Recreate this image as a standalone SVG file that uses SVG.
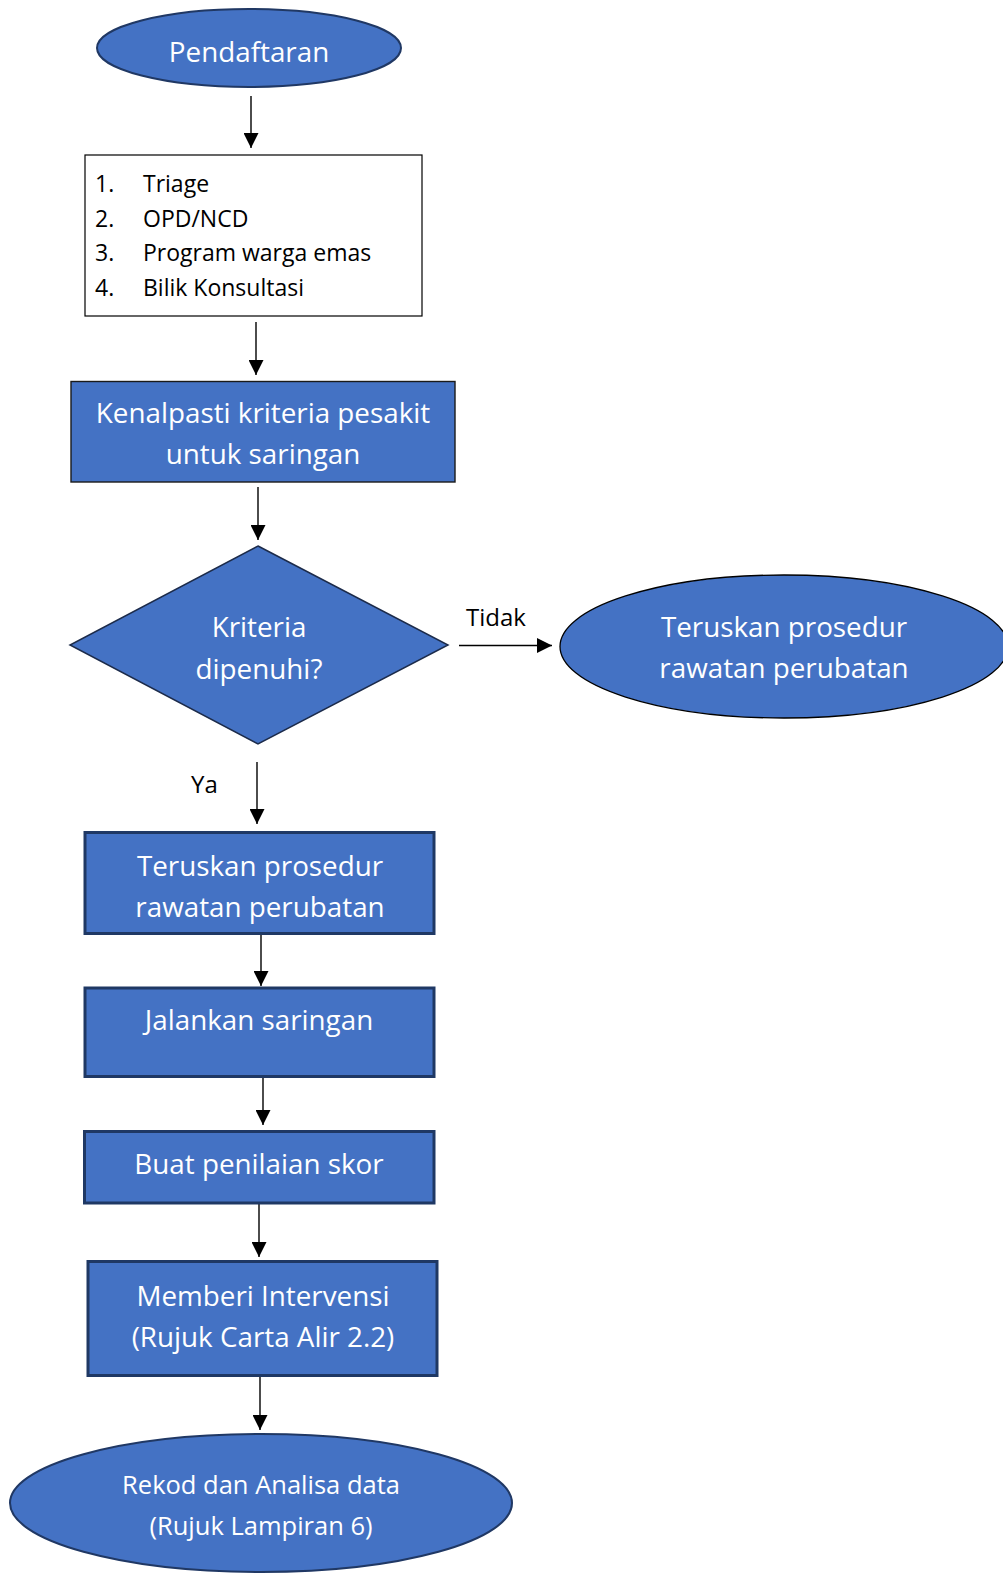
<svg xmlns="http://www.w3.org/2000/svg" width="1003" height="1573" viewBox="0 0 1003 1573">
<style>
.blue{fill:#4472C4}
.t{font-family:"Open Sans","Noto Sans","Liberation Sans",sans-serif;fill:#ffffff;text-anchor:middle;font-size:27.8px}
.ts{font-size:25.5px}
.k{font-family:"Open Sans","Noto Sans","Liberation Sans",sans-serif;fill:#000000}
.c{fill:none;stroke:#000;stroke-width:1.4}
</style>
<defs>
<marker id="ah" markerUnits="userSpaceOnUse" markerWidth="15" markerHeight="15" refX="15" refY="7.5" orient="auto">
<path d="M0,0 L15,7.5 L0,15 z" fill="#000"/>
</marker>
</defs>
<rect width="1003" height="1573" fill="#ffffff"/>
<g id="connectors">
<line class="c" x1="251" y1="96" x2="251" y2="148" marker-end="url(#ah)"/>
<line class="c" x1="256" y1="322" x2="256" y2="375" marker-end="url(#ah)"/>
<line class="c" x1="258" y1="487" x2="258" y2="540" marker-end="url(#ah)"/>
<line class="c" x1="459" y1="645.5" x2="552" y2="645.5" marker-end="url(#ah)"/>
<line class="c" x1="257" y1="762" x2="257" y2="824" marker-end="url(#ah)"/>
<line class="c" x1="261" y1="935" x2="261" y2="986" marker-end="url(#ah)"/>
<line class="c" x1="263" y1="1072" x2="263" y2="1125" marker-end="url(#ah)"/>
<line class="c" x1="259" y1="1204" x2="259" y2="1257" marker-end="url(#ah)"/>
<line class="c" x1="260" y1="1377" x2="260" y2="1430" marker-end="url(#ah)"/>
<text class="k" x="466" y="626" font-size="24">Tidak</text>
<text class="k" x="191" y="793" font-size="24">Ya</text>
</g>
<g id="pendaftaran">
<ellipse class="blue" cx="249" cy="48" rx="152" ry="39" stroke="#203864" stroke-width="2"/>
<text class="t" x="249" y="62">Pendaftaran</text>
</g>
<g id="senarai">
<rect x="85" y="155" width="337" height="161" fill="#ffffff" stroke="#000" stroke-width="1.2"/>
<g class="k" font-size="23">
<text x="95" y="192">1.</text><text x="143" y="192">Triage</text>
<text x="95" y="227">2.</text><text x="143" y="227">OPD/NCD</text>
<text x="95" y="261">3.</text><text x="143" y="261">Program warga emas</text>
<text x="95" y="296">4.</text><text x="143" y="296">Bilik Konsultasi</text>
</g>
</g>
<g id="kenalpasti">
<rect class="blue" x="71" y="381.5" width="384" height="100.5" stroke="#1a1a1a" stroke-width="1.4"/>
<text class="t" x="263" y="423">Kenalpasti kriteria pesakit</text>
<text class="t" x="263" y="464">untuk saringan</text>
</g>
<g id="kriteria">
<polygon class="blue" points="258,546 448,645 258,744 70,645" stroke="#1c2b4a" stroke-width="1.5"/>
<text class="t" x="259" y="637">Kriteria</text>
<text class="t" x="259" y="679">dipenuhi?</text>
</g>
<g id="teruskan-tidak">
<ellipse class="blue" cx="784" cy="646.5" rx="224" ry="71.5" stroke="#000" stroke-width="1.3"/>
<text class="t" x="784" y="637">Teruskan prosedur</text>
<text class="t" x="784" y="678">rawatan perubatan</text>
</g>
<g id="teruskan-ya">
<rect class="blue" x="85" y="832.5" width="349" height="101" stroke="#1F3864" stroke-width="3"/>
<text class="t" x="260" y="876">Teruskan prosedur</text>
<text class="t" x="260" y="917">rawatan perubatan</text>
</g>
<g id="jalankan">
<rect class="blue" x="85" y="988" width="349" height="88.5" stroke="#1F3864" stroke-width="3"/>
<text class="t" x="259" y="1030">Jalankan saringan</text>
</g>
<g id="buat">
<rect class="blue" x="84.5" y="1131.5" width="349.5" height="71.5" stroke="#1F3864" stroke-width="3"/>
<text class="t" x="259" y="1174">Buat penilaian skor</text>
</g>
<g id="memberi">
<rect class="blue" x="88" y="1261.5" width="349" height="114" stroke="#1F3864" stroke-width="3"/>
<text class="t" x="263" y="1306">Memberi Intervensi</text>
<text class="t" x="263" y="1347">(Rujuk Carta Alir 2.2)</text>
</g>
<g id="rekod">
<ellipse class="blue" cx="261" cy="1503" rx="251" ry="69" stroke="#203864" stroke-width="2"/>
<text class="t ts" x="261" y="1494">Rekod dan Analisa data</text>
<text class="t ts" x="261" y="1535">(Rujuk Lampiran 6)</text>
</g>
</svg>
